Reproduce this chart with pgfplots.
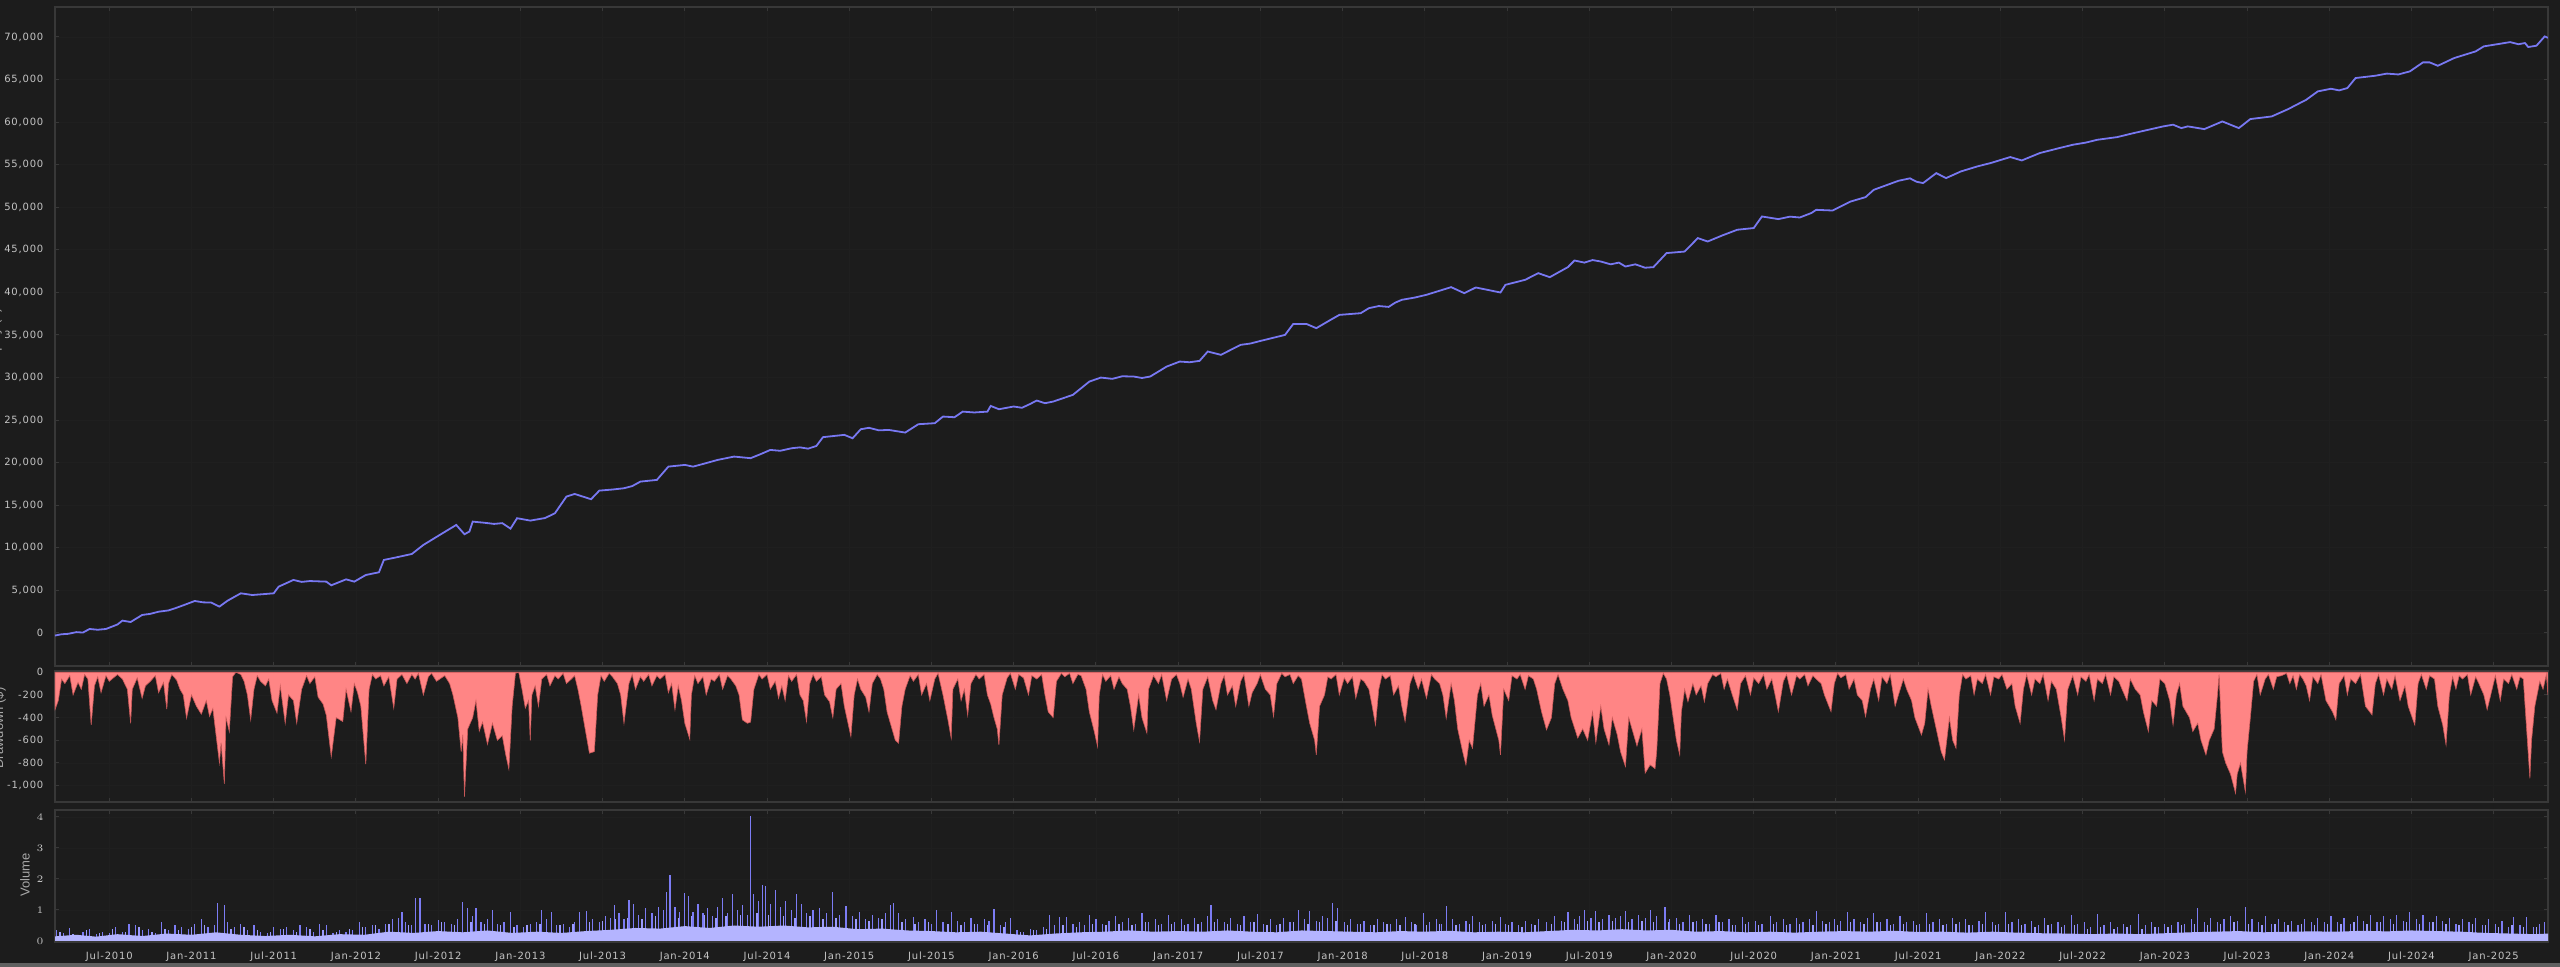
\documentclass[border=0pt]{standalone}
\usepackage{pgfplots}
\pgfplotsset{compat=1.18}
\usepackage{fontspec}
\setmainfont{DejaVu Sans}[LetterSpace=8]
\newfontfamily\labfont{Liberation Sans}

\definecolor{bgc}{HTML}{1C1C1C}
\definecolor{framec}{HTML}{383838}
\definecolor{gridc}{HTML}{1F1F1F}
\definecolor{labc}{HTML}{C4C4C4}
\definecolor{axlabc}{HTML}{A8A8A8}
\definecolor{eqc}{HTML}{7878F2}
\definecolor{ddfill}{HTML}{FF8585}
\definecolor{ddedge}{HTML}{C85858}
\definecolor{volc}{HTML}{7C7CF4}
\definecolor{volmid}{HTML}{9C9CFF}
\definecolor{vollight}{HTML}{B4B4FF}

\pgfplotsset{
  panel/.style={
    scale only axis, width=1246.5pt,
    xmin=2010.17, xmax=2025.33,
    axis background/.style={fill=bgc},
    axis line style={framec, line width=0.8pt},
    tick style={framec, line width=0.5pt},
    major tick length=2pt,
    tick label style={font=\fontsize{5}{6}\selectfont, text=labc},
    yticklabel style={xshift=-2.3pt},
    grid=major, grid style={gridc, line width=0.4pt},
    xtick={2010.5,2011,...,2025},
    clip=true,
  },
}

\begin{document}
\begin{tikzpicture}[x=1pt,y=1pt]
\useasboundingbox (0,0) rectangle (1280,483.5);
\fill[bgc] (0,0) rectangle (1280,483.5);
\fill[framec!80] (0,0) rectangle (1280,2);

% equity
\begin{axis}[panel, at={(27.5pt,150.5pt)}, anchor=south west, height=329.5pt,
  ymin=-3876, ymax=73525,
  ytick={0,5000,...,70000},
  yticklabels={0,{5,000},{10,000},{15,000},{20,000},{25,000},{30,000},{35,000},{40,000},{45,000},{50,000},{55,000},{60,000},{65,000},{70,000}},
  xticklabels={}]
\addplot[eqc, line width=0.9pt, mark=none] coordinates {
(2010.17,-300) (2010.21,-150) (2010.25,-100) (2010.30,100) (2010.34,50) (2010.38,470) (2010.43,380) (2010.48,470) (2010.55,1000)
(2010.58,1450) (2010.63,1290) (2010.70,2115) (2010.75,2250) (2010.80,2500) (2010.86,2650) (2010.90,2900) (2010.95,3250)
(2011.02,3760) (2011.07,3600) (2011.12,3570) (2011.17,3100) (2011.22,3800) (2011.30,4660) (2011.37,4460)
(2011.43,4550) (2011.50,4660) (2011.53,5440) (2011.62,6230) (2011.67,6000) (2011.72,6100) (2011.82,6030) (2011.85,5600)
(2011.94,6300) (2011.99,6030) (2012.06,6810) (2012.14,7130) (2012.17,8580) (2012.25,8900)
(2012.34,9280) (2012.41,10340) (2012.51,11520) (2012.61,12690) (2012.66,11600) (2012.69,11910)
(2012.71,13080) (2012.78,12950) (2012.84,12810) (2012.89,12900) (2012.94,12260) (2012.98,13480) (2013.06,13200) (2013.15,13500)
(2013.21,14060) (2013.28,16020) (2013.33,16330) (2013.43,15710) (2013.48,16720) (2013.56,16850) (2013.63,17000)
(2013.68,17250) (2013.73,17780) (2013.83,17980) (2013.90,19540) (2014.00,19740) (2014.05,19540) (2014.12,19900) (2014.20,20330)
(2014.30,20720) (2014.40,20530) (2014.46,21000) (2014.52,21500) (2014.58,21400) (2014.65,21700) (2014.70,21800) (2014.75,21650) (2014.80,21970) (2014.84,23000)
(2014.97,23270) (2015.02,22870) (2015.07,23930) (2015.12,24100) (2015.18,23800) (2015.24,23850) (2015.34,23540) (2015.42,24520)
(2015.52,24640) (2015.57,25420) (2015.64,25340) (2015.69,26000) (2015.76,25900) (2015.84,26000) (2015.86,26670)
(2015.91,26280) (2016.00,26600) (2016.05,26450) (2016.10,26900) (2016.14,27300) (2016.19,26990) (2016.24,27180) (2016.36,27970) (2016.46,29530)
(2016.53,30000) (2016.60,29850) (2016.66,30150) (2016.73,30120) (2016.78,29950) (2016.83,30120) (2016.93,31290) (2017.01,31880) (2017.07,31800) (2017.13,31960)
(2017.18,33060) (2017.26,32670) (2017.38,33840) (2017.44,34000) (2017.50,34300) (2017.65,35010) (2017.70,36300)
(2017.78,36300) (2017.84,35800) (2017.92,36700) (2017.98,37360) (2018.11,37560) (2018.16,38150) (2018.22,38400) (2018.28,38300) (2018.32,38800) (2018.36,39130)
(2018.44,39400) (2018.51,39720) (2018.66,40620) (2018.74,39910) (2018.81,40580) (2018.96,39990) (2018.99,40890)
(2019.11,41480) (2019.19,42260) (2019.26,41790) (2019.37,42970) (2019.41,43750) (2019.47,43500) (2019.52,43800) (2019.57,43630)
(2019.63,43300) (2019.68,43500) (2019.72,43040) (2019.78,43300) (2019.84,42900) (2019.89,42970) (2019.97,44620) (2020.08,44800) (2020.16,46380) (2020.22,45980)
(2020.31,46700) (2020.40,47360) (2020.50,47560) (2020.55,48920) (2020.65,48610) (2020.72,48900) (2020.78,48800) (2020.85,49320) (2020.88,49700)
(2020.98,49620) (2021.09,50680) (2021.18,51190) (2021.23,52050) (2021.38,53110) (2021.45,53400) (2021.49,53000) (2021.53,52840)
(2021.61,54010) (2021.67,53430) (2021.76,54210) (2021.86,54800) (2021.94,55190) (2022.06,55900)
(2022.13,55500) (2022.24,56370) (2022.36,56960) (2022.44,57340) (2022.52,57600) (2022.59,57930) (2022.71,58240)
(2022.81,58710) (2022.99,59500) (2023.05,59700) (2023.10,59300) (2023.14,59500) (2023.24,59180) (2023.35,60080) (2023.45,59300)
(2023.52,60360) (2023.65,60670) (2023.75,61530) (2023.86,62630) (2023.93,63610) (2024.01,63920)
(2024.06,63730) (2024.11,64000) (2024.16,65180) (2024.28,65450) (2024.35,65700) (2024.42,65600) (2024.49,65960) (2024.57,67020)
(2024.61,67020) (2024.66,66620) (2024.76,67530) (2024.89,68310) (2024.94,68900) (2025.04,69210)
(2025.10,69400) (2025.15,69150) (2025.19,69290) (2025.21,68820) (2025.26,68980) (2025.31,70070) (2025.33,69900)
};
\end{axis}

% drawdown
\begin{axis}[panel, at={(27.5pt,82.35pt)}, anchor=south west, height=65.65pt,
  ymin=-1147, ymax=11,
  ytick={-1000,-800,...,0},
  yticklabels={{-1,000},-800,-600,-400,-200,0},
  xticklabels={}]
\addplot[draw=ddedge, line width=0.3pt, fill=ddfill, mark=none] coordinates {
(2010.17,0) (2010.17,-330) (2010.19,-250) (2010.21,-60) (2010.23,-100) (2010.26,-30) (2010.28,-200) (2010.31,-90) (2010.33,-150) (2010.35,-20) (2010.37,-60)
(2010.39,-465) (2010.41,-120) (2010.43,-40) (2010.45,-180) (2010.48,-30) (2010.50,-80) (2010.55,-20) (2010.58,-60) (2010.61,-150)
(2010.63,-450) (2010.64,-150) (2010.67,-50) (2010.70,-230) (2010.72,-120) (2010.75,-80) (2010.78,-30) (2010.80,-180) (2010.83,-90) (2010.85,-326)
(2010.86,-100) (2010.88,-20) (2010.91,-70) (2010.93,-150) (2010.95,-200) (2010.97,-405) (2011.00,-200) (2011.03,-300)
(2011.06,-370) (2011.09,-250) (2011.11,-390) (2011.13,-320) (2011.15,-560) (2011.17,-800)
(2011.18,-620) (2011.20,-985) (2011.21,-400) (2011.23,-523) (2011.25,-40) (2011.27,0) (2011.30,-20)
(2011.32,-80) (2011.34,-200) (2011.36,-420) (2011.38,-150) (2011.40,-30) (2011.42,-80) (2011.45,-120) (2011.47,-60) (2011.49,-250)
(2011.52,-360) (2011.54,-120) (2011.57,-450) (2011.59,-200) (2011.62,-250) (2011.64,-450)
(2011.67,-150) (2011.70,-30) (2011.72,-100) (2011.75,-40) (2011.77,-220) (2011.80,-280) (2011.82,-380) (2011.84,-626) (2011.85,-744)
(2011.88,-400) (2011.92,-435) (2011.94,-150) (2011.97,-347) (2011.99,-100) (2012.01,-180) (2012.03,-300)
(2012.06,-811) (2012.08,-150) (2012.10,-20) (2012.12,-60) (2012.15,-30) (2012.17,-120) (2012.20,-40) (2012.23,-317) (2012.25,-60)
(2012.28,-20) (2012.31,-100) (2012.34,-20) (2012.36,-60) (2012.38,-10) (2012.41,-200) (2012.44,-40) (2012.46,-10) (2012.49,-80) (2012.54,-30)
(2012.57,-100) (2012.59,-200) (2012.62,-400) (2012.64,-700) (2012.65,-550) (2012.66,-1097) (2012.68,-500)
(2012.71,-400) (2012.73,-250) (2012.75,-520) (2012.77,-440) (2012.80,-635) (2012.83,-450) (2012.86,-600)
(2012.89,-560) (2012.91,-720) (2012.93,-855) (2012.95,-300) (2012.97,-10) (2012.99,0) (2013.01,-150)
(2013.03,-317) (2013.05,-250) (2013.06,-600) (2013.07,-200) (2013.09,-120) (2013.11,-300) (2013.13,-60)
(2013.16,-20) (2013.18,-120) (2013.21,-30) (2013.23,-60) (2013.26,-10) (2013.28,-100) (2013.31,-60) (2013.33,-30) (2013.35,-150) (2013.37,-300) (2013.40,-550)
(2013.42,-714) (2013.45,-700) (2013.47,-200) (2013.49,-30) (2013.51,-80) (2013.54,-10) (2013.56,-40) (2013.59,-100) (2013.61,-200)
(2013.63,-450) (2013.66,-100) (2013.68,-20) (2013.70,-150) (2013.73,-40) (2013.75,-80) (2013.78,-20) (2013.80,-120) (2013.83,-30) (2013.85,-60)
(2013.88,-20) (2013.90,-180) (2013.92,-100) (2013.94,-330) (2013.96,-120) (2013.98,-250) (2014.00,-450) (2014.03,-590) (2014.04,-200)
(2014.06,-30) (2014.08,-100) (2014.11,-40) (2014.13,-200) (2014.16,-60) (2014.18,-80) (2014.21,-20) (2014.23,-150) (2014.26,-30) (2014.28,-60)
(2014.31,-120) (2014.33,-200) (2014.35,-420) (2014.38,-450) (2014.40,-440) (2014.42,-150) (2014.45,-20) (2014.47,-60) (2014.50,-20) (2014.52,-150)
(2014.55,-80) (2014.57,-230) (2014.59,-120) (2014.61,-250) (2014.63,-30) (2014.65,-80) (2014.68,-20) (2014.70,-200) (2014.72,-250) (2014.74,-435) (2014.76,-100)
(2014.78,-20) (2014.80,-80) (2014.83,-40) (2014.85,-200) (2014.88,-260) (2014.90,-400) (2014.92,-150) (2014.95,-100) (2014.97,-300) (2015.01,-567)
(2015.03,-200) (2015.05,-60) (2015.07,-150) (2015.10,-220) (2015.12,-350) (2015.14,-100) (2015.17,-20) (2015.19,-60) (2015.21,-150) (2015.23,-350)
(2015.25,-450) (2015.28,-600) (2015.30,-626) (2015.32,-300) (2015.34,-150) (2015.37,-30) (2015.39,-80) (2015.42,-20)
(2015.44,-200) (2015.47,-100) (2015.49,-250) (2015.52,-60) (2015.54,-10) (2015.57,-200) (2015.60,-420) (2015.62,-582)
(2015.63,-150) (2015.66,-60) (2015.68,-250) (2015.70,-150) (2015.72,-380) (2015.74,-100) (2015.77,-20) (2015.79,-60) (2015.82,-20) (2015.84,-200)
(2015.86,-280) (2015.88,-400) (2015.90,-500) (2015.91,-641) (2015.93,-200) (2015.96,-50) (2015.98,-10) (2016.01,-150)
(2016.03,-20) (2016.06,-50) (2016.09,-200) (2016.11,-30) (2016.14,-60) (2016.17,-20) (2016.19,-200) (2016.21,-350) (2016.24,-400)
(2016.26,-80) (2016.29,-10) (2016.31,-40) (2016.34,-10) (2016.36,-100) (2016.39,-20) (2016.41,-30) (2016.44,-150) (2016.46,-350) (2016.49,-523)
(2016.51,-655) (2016.52,-200) (2016.54,-20) (2016.56,-80) (2016.59,-30) (2016.61,-150) (2016.64,-40) (2016.66,-100) (2016.69,-150) (2016.71,-300)
(2016.73,-508) (2016.76,-200) (2016.78,-400) (2016.81,-538) (2016.82,-150) (2016.85,-30) (2016.88,-100) (2016.90,-20)
(2016.93,-250) (2016.96,-60) (2016.99,-20) (2017.01,-100) (2017.03,-220) (2017.06,-60) (2017.08,-150) (2017.11,-450) (2017.13,-611)
(2017.15,-150) (2017.18,-40) (2017.21,-250) (2017.23,-330) (2017.26,-100) (2017.28,-30) (2017.30,-200) (2017.33,-120) (2017.35,-300)
(2017.38,-80) (2017.40,-20) (2017.43,-300) (2017.45,-180) (2017.48,-100) (2017.50,-20) (2017.53,-150) (2017.56,-200) (2017.58,-390) (2017.60,-100)
(2017.63,-10) (2017.65,-40) (2017.68,-20) (2017.70,-100) (2017.73,-30) (2017.75,-60) (2017.78,-300) (2017.80,-450) (2017.83,-600)
(2017.84,-729) (2017.86,-300) (2017.89,-200) (2017.91,-40) (2017.93,-60) (2017.96,-20) (2017.98,-200) (2018.01,-50) (2018.03,-100)
(2018.06,-40) (2018.08,-230) (2018.11,-60) (2018.13,-80) (2018.16,-150) (2018.18,-300) (2018.20,-465) (2018.22,-150) (2018.24,-20) (2018.26,-60)
(2018.29,-30) (2018.31,-200) (2018.34,-120) (2018.36,-300) (2018.38,-435) (2018.41,-100) (2018.43,-20) (2018.46,-150) (2018.48,-60) (2018.51,-230)
(2018.54,-20) (2018.56,-60) (2018.59,-100) (2018.61,-200) (2018.63,-405) (2018.66,-100) (2018.68,-250) (2018.70,-500) (2018.73,-700)
(2018.75,-817) (2018.77,-600) (2018.79,-670) (2018.82,-200) (2018.84,-100) (2018.86,-300) (2018.89,-200) (2018.91,-380)
(2018.95,-600) (2018.96,-729) (2018.98,-150) (2019.01,-250) (2019.03,-30) (2019.06,-60) (2019.08,-20) (2019.11,-150) (2019.13,-30)
(2019.16,-60) (2019.18,-150) (2019.21,-350) (2019.24,-508) (2019.27,-400) (2019.29,-100) (2019.31,-20) (2019.34,-150) (2019.37,-250)
(2019.39,-400) (2019.43,-580) (2019.46,-500) (2019.49,-600) (2019.52,-350) (2019.54,-620)
(2019.57,-300) (2019.59,-500) (2019.62,-641) (2019.64,-400) (2019.67,-550) (2019.69,-700)
(2019.72,-832) (2019.74,-400) (2019.77,-550) (2019.79,-650) (2019.82,-500) (2019.84,-890)
(2019.87,-817) (2019.90,-850) (2019.91,-700) (2019.93,-100) (2019.95,-10) (2019.97,-60) (2019.99,-200) (2020.01,-400)
(2020.03,-600) (2020.05,-729) (2020.06,-350) (2020.08,-150) (2020.10,-260) (2020.13,-100) (2020.15,-200) (2020.18,-120) (2020.20,-260)
(2020.22,-100) (2020.25,-20) (2020.27,-40) (2020.30,-10) (2020.32,-150) (2020.34,-60) (2020.37,-200) (2020.40,-332) (2020.42,-100)
(2020.45,-30) (2020.48,-200) (2020.50,-50) (2020.53,-100) (2020.56,-20) (2020.58,-150) (2020.61,-60) (2020.63,-200) (2020.65,-347) (2020.68,-80)
(2020.70,-20) (2020.73,-200) (2020.76,-30) (2020.78,-60) (2020.81,-20) (2020.83,-120) (2020.86,-30) (2020.88,-60) (2020.91,-100) (2020.93,-200) (2020.97,-347)
(2020.99,-100) (2021.01,-10) (2021.03,-50) (2021.06,-20) (2021.08,-150) (2021.11,-60) (2021.13,-200) (2021.16,-250) (2021.18,-391) (2021.21,-150)
(2021.23,-60) (2021.26,-250) (2021.28,-40) (2021.31,-100) (2021.33,-20) (2021.36,-300) (2021.38,-200) (2021.41,-60) (2021.43,-150) (2021.46,-250) (2021.48,-400)
(2021.52,-553) (2021.54,-450) (2021.56,-150) (2021.58,-300) (2021.61,-500) (2021.64,-700) (2021.66,-773)
(2021.69,-400) (2021.71,-600) (2021.73,-670) (2021.75,-200) (2021.77,-20) (2021.79,-60) (2021.82,-30) (2021.84,-200) (2021.86,-60)
(2021.89,-100) (2021.91,-20) (2021.94,-200) (2021.96,-40) (2021.99,-60) (2022.01,-20) (2022.04,-150) (2022.07,-100) (2022.09,-300) (2022.12,-450)
(2022.14,-150) (2022.16,-20) (2022.19,-200) (2022.21,-60) (2022.24,-100) (2022.26,-20) (2022.29,-250) (2022.31,-80) (2022.34,-150) (2022.37,-400)
(2022.39,-597) (2022.41,-150) (2022.44,-30) (2022.47,-200) (2022.49,-40) (2022.52,-80) (2022.54,-20) (2022.57,-250) (2022.59,-60) (2022.62,-100)
(2022.64,-20) (2022.67,-200) (2022.69,-40) (2022.72,-80) (2022.74,-150) (2022.77,-250) (2022.79,-60) (2022.82,-150) (2022.85,-200) (2022.87,-350) (2022.90,-523)
(2022.92,-250) (2022.95,-300) (2022.97,-60) (2023.00,-100) (2023.03,-250) (2023.05,-465) (2023.07,-200) (2023.09,-100) (2023.11,-300)
(2023.15,-400) (2023.17,-523) (2023.20,-450) (2023.22,-600) (2023.25,-729) (2023.27,-600)
(2023.30,-500) (2023.32,-200) (2023.33,-20) (2023.35,-700) (2023.37,-800) (2023.40,-900) (2023.43,-1067)
(2023.44,-900) (2023.46,-800) (2023.49,-1056) (2023.50,-700) (2023.52,-400) (2023.54,-80) (2023.56,-20)
(2023.58,-200) (2023.61,-60) (2023.63,-20) (2023.66,-150) (2023.68,-40) (2023.71,-30) (2023.74,-10) (2023.76,-100) (2023.78,-30) (2023.80,-150)
(2023.82,-20) (2023.84,-60) (2023.86,-120) (2023.88,-250) (2023.90,-40) (2023.93,-100) (2023.95,-20) (2023.98,-250) (2024.02,-350) (2024.04,-420)
(2024.06,-100) (2024.09,-30) (2024.11,-200) (2024.13,-60) (2024.16,-100) (2024.19,-20) (2024.22,-300) (2024.26,-376) (2024.28,-100)
(2024.30,-20) (2024.33,-200) (2024.35,-60) (2024.38,-150) (2024.40,-30) (2024.43,-250) (2024.46,-120) (2024.48,-300) (2024.52,-465) (2024.54,-100)
(2024.56,-20) (2024.59,-150) (2024.61,-30) (2024.64,-60) (2024.66,-300) (2024.69,-465) (2024.71,-641) (2024.73,-200)
(2024.75,-40) (2024.77,-150) (2024.79,-30) (2024.81,-60) (2024.84,-20) (2024.86,-200) (2024.89,-40) (2024.91,-100) (2024.94,-200) (2024.96,-330) (2024.99,-150)
(2025.01,-30) (2025.04,-250) (2025.06,-60) (2025.09,-100) (2025.11,-20) (2025.14,-150) (2025.16,-40) (2025.18,-60) (2025.20,-500) (2025.22,-935)
(2025.23,-600) (2025.25,-300) (2025.28,-80) (2025.30,-150) (2025.32,-20) (2025.33,-200) (2025.33,0)
} \closedcycle;
\end{axis}

% volume
\begin{axis}[panel, at={(27.5pt,12.5pt)}, anchor=south west, height=66pt,
  ymin=-0.032, ymax=4.226,
  ytick={0,1,2,3,4},
  xticklabels={Jul-2010,Jan-2011,Jul-2011,Jan-2012,Jul-2012,Jan-2013,Jul-2013,Jan-2014,Jul-2014,Jan-2015,Jul-2015,Jan-2016,Jul-2016,Jan-2017,Jul-2017,Jan-2018,Jul-2018,Jan-2019,Jul-2019,Jan-2020,Jul-2020,Jan-2021,Jul-2021,Jan-2022,Jul-2022,Jan-2023,Jul-2023,Jan-2024,Jul-2024,Jan-2025},
  xticklabel style={yshift=-1.5pt}]
\addplot[ycomb, draw=volc, line width=0.6pt, mark=none] coordinates {
(2010.18,0.35) (2010.22,0.25) (2010.26,0.42) (2010.30,0.2) (2010.34,0.3) (2010.38,0.4) (2010.42,0.22)
(2010.46,0.28) (2010.50,0.25) (2010.54,0.45) (2010.58,0.3) (2010.62,0.55) (2010.66,0.5) (2010.70,0.35)
(2010.74,0.4) (2010.78,0.25) (2010.82,0.62) (2010.86,0.35) (2010.90,0.5) (2010.94,0.45) (2010.98,0.4)
(2011.02,0.55) (2011.06,0.7) (2011.10,0.45) (2011.14,0.5) (2011.16,1.24) (2011.20,1.16) (2011.22,0.6)
(2011.26,0.45) (2011.30,0.55) (2011.34,0.35) (2011.38,0.5) (2011.42,0.3) (2011.46,0.25) (2011.50,0.45)
(2011.54,0.4) (2011.58,0.45) (2011.62,0.35) (2011.66,0.5) (2011.70,0.45) (2011.74,0.3) (2011.78,0.55)
(2011.82,0.5) (2011.86,0.25) (2011.90,0.35) (2011.94,0.3) (2011.98,0.35)
(2012.02,0.6) (2012.06,0.45) (2012.10,0.5) (2012.14,0.4) (2012.18,0.55) (2012.22,0.7) (2012.26,0.75)
(2012.28,0.95) (2012.30,0.6) (2012.34,0.5) (2012.36,1.38) (2012.39,1.38) (2012.42,0.55) (2012.46,0.5)
(2012.50,0.68) (2012.54,0.6) (2012.58,0.55) (2012.62,0.7) (2012.65,1.27) (2012.68,1.05) (2012.71,0.8)
(2012.73,1.05) (2012.76,0.6) (2012.80,0.7) (2012.83,1.0) (2012.86,0.55) (2012.90,0.6) (2012.94,0.92)
(2012.98,0.5)
(2013.02,0.45) (2013.06,0.55) (2013.10,0.6) (2013.13,1.0) (2013.16,0.7) (2013.19,0.95) (2013.22,0.5)
(2013.26,0.55) (2013.30,0.45) (2013.33,0.6) (2013.36,0.95) (2013.40,0.98) (2013.44,0.7) (2013.48,0.6)
(2013.52,0.8) (2013.55,0.75) (2013.57,1.16) (2013.60,0.9) (2013.63,0.7) (2013.66,1.32) (2013.69,1.2)
(2013.72,0.85) (2013.76,1.05) (2013.80,0.9) (2013.84,1.1) (2013.87,1.0) (2013.89,1.59) (2013.91,2.13)
(2013.94,1.1) (2013.97,0.95)
(2014.00,1.54) (2014.02,1.46) (2014.05,0.95) (2014.08,1.2) (2014.11,0.9) (2014.14,1.05) (2014.17,0.8)
(2014.20,1.1) (2014.23,1.39) (2014.26,0.9) (2014.29,1.53) (2014.32,1.0) (2014.35,1.15) (2014.38,0.85)
(2014.40,4.04) (2014.42,1.51) (2014.45,1.3) (2014.47,1.8) (2014.49,1.78) (2014.52,1.2) (2014.55,1.64)
(2014.58,1.1) (2014.61,1.3) (2014.65,1.0) (2014.68,1.51) (2014.71,1.18) (2014.74,0.9) (2014.78,1.0)
(2014.82,1.08) (2014.86,0.9) (2014.90,1.59) (2014.94,0.85) (2014.98,1.14)
(2015.02,0.8) (2015.06,0.95) (2015.10,0.7) (2015.14,0.85) (2015.18,0.75) (2015.22,0.9) (2015.25,1.16)
(2015.27,1.22) (2015.30,0.9) (2015.34,0.7) (2015.39,0.79) (2015.42,0.6) (2015.46,0.7) (2015.50,0.55)
(2015.53,1.0) (2015.57,0.6) (2015.62,0.95) (2015.66,0.65) (2015.70,0.6) (2015.74,0.75) (2015.78,0.55)
(2015.82,0.7) (2015.85,0.65) (2015.88,1.04) (2015.92,0.5) (2015.95,0.6) (2015.98,0.74)
(2016.02,0.35) (2016.06,0.3) (2016.10,0.4) (2016.14,0.35) (2016.18,0.45) (2016.22,0.85) (2016.25,0.5)
(2016.28,0.79) (2016.32,0.79) (2016.36,0.55) (2016.40,0.6) (2016.43,0.5) (2016.46,0.85) (2016.50,0.7)
(2016.54,0.55) (2016.58,0.65) (2016.62,0.8) (2016.66,0.6) (2016.70,0.75) (2016.74,0.55) (2016.78,0.9)
(2016.82,0.6) (2016.86,0.7) (2016.90,0.55) (2016.94,0.85) (2016.98,0.6)
(2017.02,0.7) (2017.06,0.55) (2017.10,0.75) (2017.14,0.6) (2017.18,0.8) (2017.20,1.16) (2017.24,0.7)
(2017.28,0.6) (2017.32,0.75) (2017.36,0.55) (2017.40,0.82) (2017.44,0.6) (2017.48,0.87) (2017.52,0.55)
(2017.56,0.7) (2017.60,0.5) (2017.64,0.75) (2017.68,0.6) (2017.73,1.0) (2017.77,0.7) (2017.80,0.96)
(2017.84,0.65) (2017.88,0.8) (2017.91,0.75) (2017.94,1.22) (2017.97,1.07)
(2018.01,0.6) (2018.05,0.7) (2018.09,0.55) (2018.13,0.65) (2018.17,0.5) (2018.21,0.7) (2018.25,0.6)
(2018.29,0.55) (2018.33,0.7) (2018.38,0.79) (2018.42,0.6) (2018.45,0.5) (2018.49,0.91) (2018.53,0.6)
(2018.57,0.7) (2018.60,0.55) (2018.63,1.13) (2018.67,0.7) (2018.71,0.55) (2018.75,0.65) (2018.79,0.8)
(2018.83,0.6) (2018.87,0.55) (2018.91,0.65) (2018.96,0.78) (2018.99,0.55)
(2019.03,0.6) (2019.07,0.5) (2019.11,0.65) (2019.15,0.55) (2019.19,0.7) (2019.24,0.6) (2019.29,0.8)
(2019.33,0.65) (2019.37,0.94) (2019.41,0.7) (2019.44,0.8) (2019.47,1.0) (2019.51,0.75) (2019.54,0.98)
(2019.58,0.7) (2019.62,0.85) (2019.66,0.75) (2019.69,0.8) (2019.72,0.97) (2019.76,0.7) (2019.80,0.85)
(2019.84,0.75) (2019.87,1.0) (2019.91,0.8) (2019.96,1.1) (2019.99,0.7)
(2020.03,0.75) (2020.07,0.6) (2020.11,0.84) (2020.15,0.65) (2020.19,0.7) (2020.23,0.55) (2020.27,0.84)
(2020.31,0.6) (2020.35,0.7) (2020.39,0.5) (2020.43,0.78) (2020.47,0.6) (2020.51,0.65) (2020.55,0.55)
(2020.60,0.8) (2020.64,0.6) (2020.68,0.7) (2020.72,0.55) (2020.76,0.75) (2020.80,0.6) (2020.84,0.7)
(2020.88,0.98) (2020.92,0.65) (2020.96,0.6) (2020.99,0.7)
(2021.03,0.65) (2021.07,0.95) (2021.11,0.7) (2021.15,0.6) (2021.19,0.75) (2021.23,0.89) (2021.27,0.6)
(2021.31,0.7) (2021.35,0.55) (2021.39,0.8) (2021.43,0.6) (2021.47,0.65) (2021.51,0.55) (2021.55,0.89)
(2021.59,0.6) (2021.63,0.7) (2021.67,0.55) (2021.71,0.75) (2021.75,0.6) (2021.79,0.7) (2021.83,0.5)
(2021.87,0.65) (2021.91,0.92) (2021.95,0.6) (2021.99,0.55)
(2022.03,0.92) (2022.07,0.6) (2022.11,0.7) (2022.15,0.55) (2022.19,0.65) (2022.23,0.5) (2022.27,0.75)
(2022.31,0.55) (2022.35,0.6) (2022.39,0.5) (2022.43,0.84) (2022.47,0.55) (2022.51,0.6) (2022.55,0.45)
(2022.59,0.86) (2022.63,0.5) (2022.67,0.6) (2022.71,0.45) (2022.75,0.55) (2022.79,0.5) (2022.84,0.86)
(2022.88,0.5) (2022.92,0.6) (2022.96,0.45)
(2023.00,0.55) (2023.04,0.5) (2023.08,0.6) (2023.12,0.55) (2023.16,0.7) (2023.20,1.07) (2023.24,0.6)
(2023.28,0.75) (2023.32,0.6) (2023.36,0.7) (2023.40,0.8) (2023.44,0.65) (2023.49,1.1) (2023.53,0.7)
(2023.57,0.6) (2023.61,0.8) (2023.65,0.55) (2023.69,0.7) (2023.73,0.6) (2023.77,0.65) (2023.81,0.5)
(2023.85,0.7) (2023.89,0.6) (2023.93,0.75) (2023.97,0.6)
(2024.01,0.8) (2024.05,0.6) (2024.09,0.75) (2024.13,0.55) (2024.17,0.8) (2024.21,0.65) (2024.25,0.85)
(2024.29,0.6) (2024.33,0.8) (2024.37,0.7) (2024.41,0.85) (2024.45,0.65) (2024.49,0.94) (2024.53,0.7)
(2024.57,0.85) (2024.61,0.6) (2024.65,0.8) (2024.69,0.65) (2024.73,0.75) (2024.77,0.55) (2024.81,0.7)
(2024.85,0.6) (2024.89,0.75) (2024.93,0.5) (2024.97,0.7)
(2025.01,0.55) (2025.05,0.65) (2025.09,0.45) (2025.12,0.76) (2025.16,0.5) (2025.20,0.78) (2025.24,0.45)
(2025.28,0.55) (2025.31,0.6)
};
\addplot[ycomb, draw=volmid, line width=0.7pt, mark=none] coordinates {
(2010.20,0.3) (2010.28,0.22) (2010.36,0.35) (2010.44,0.25) (2010.52,0.4) (2010.60,0.3) (2010.68,0.45) (2010.76,0.3) (2010.84,0.4) (2010.92,0.35)
(2011.00,0.45) (2011.08,0.5) (2011.24,0.4) (2011.32,0.45) (2011.40,0.35) (2011.48,0.3) (2011.56,0.4) (2011.64,0.3) (2011.72,0.4) (2011.80,0.35) (2011.88,0.3) (2011.96,0.4)
(2012.04,0.45) (2012.12,0.5) (2012.20,0.55) (2012.32,0.5) (2012.44,0.55) (2012.52,0.6) (2012.60,0.5) (2012.70,0.6) (2012.78,0.55) (2012.88,0.5) (2012.96,0.45)
(2013.04,0.5) (2013.12,0.55) (2013.24,0.5) (2013.32,0.55) (2013.42,0.6) (2013.50,0.65) (2013.58,0.7) (2013.65,0.75) (2013.74,0.7) (2013.82,0.8) (2013.96,0.75)
(2014.04,0.8) (2014.12,0.85) (2014.19,0.75) (2014.25,0.8) (2014.34,0.85) (2014.44,0.9) (2014.51,0.85) (2014.60,0.8) (2014.67,0.75) (2014.76,0.8) (2014.84,0.7) (2014.92,0.75)
(2015.04,0.7) (2015.12,0.65) (2015.20,0.7) (2015.32,0.6) (2015.40,0.55) (2015.48,0.6) (2015.60,0.55) (2015.68,0.5) (2015.76,0.55) (2015.84,0.5) (2015.94,0.45)
(2016.04,0.3) (2016.12,0.35) (2016.20,0.4) (2016.30,0.5) (2016.38,0.45) (2016.48,0.55) (2016.56,0.5) (2016.64,0.55) (2016.72,0.5) (2016.80,0.6) (2016.88,0.5) (2016.96,0.55)
(2017.04,0.5) (2017.12,0.55) (2017.22,0.6) (2017.30,0.55) (2017.38,0.5) (2017.46,0.6) (2017.54,0.5) (2017.62,0.55) (2017.70,0.6) (2017.79,0.55) (2017.86,0.6) (2017.96,0.65)
(2018.03,0.5) (2018.11,0.55) (2018.19,0.5) (2018.27,0.55) (2018.35,0.5) (2018.44,0.55) (2018.51,0.5) (2018.59,0.55) (2018.69,0.5) (2018.77,0.55) (2018.85,0.5) (2018.93,0.55)
(2019.01,0.5) (2019.09,0.45) (2019.17,0.5) (2019.27,0.55) (2019.35,0.6) (2019.43,0.55) (2019.49,0.65) (2019.56,0.6) (2019.64,0.65) (2019.74,0.6) (2019.82,0.65) (2019.89,0.6) (2019.98,0.6)
(2020.05,0.55) (2020.13,0.6) (2020.21,0.55) (2020.29,0.6) (2020.37,0.5) (2020.45,0.55) (2020.53,0.5) (2020.62,0.55) (2020.70,0.5) (2020.78,0.55) (2020.86,0.5) (2020.94,0.55)
(2021.01,0.5) (2021.09,0.6) (2021.17,0.55) (2021.25,0.6) (2021.33,0.5) (2021.41,0.55) (2021.49,0.5) (2021.57,0.55) (2021.65,0.5) (2021.73,0.55) (2021.81,0.5) (2021.89,0.55) (2021.97,0.5)
(2022.05,0.55) (2022.13,0.5) (2022.21,0.45) (2022.29,0.5) (2022.37,0.45) (2022.45,0.5) (2022.53,0.4) (2022.61,0.45) (2022.69,0.4) (2022.77,0.45) (2022.86,0.4) (2022.94,0.45)
(2023.02,0.45) (2023.10,0.5) (2023.18,0.55) (2023.26,0.5) (2023.34,0.55) (2023.42,0.6) (2023.51,0.55) (2023.59,0.5) (2023.67,0.55) (2023.75,0.5) (2023.83,0.55) (2023.91,0.5) (2023.99,0.55)
(2024.07,0.55) (2024.15,0.6) (2024.23,0.55) (2024.31,0.6) (2024.39,0.55) (2024.47,0.6) (2024.55,0.55) (2024.63,0.6) (2024.71,0.55) (2024.79,0.5) (2024.87,0.55) (2024.95,0.5)
(2025.03,0.45) (2025.11,0.5) (2025.18,0.45) (2025.26,0.45)
};
\addplot[fill=vollight, draw=none, mark=none] coordinates {
(2010.17,0) (2010.17,0.15) (2010.30,0.2) (2010.42,0.14) (2010.55,0.22) (2010.70,0.16) (2010.85,0.24)
(2011.00,0.2) (2011.15,0.28) (2011.30,0.2) (2011.45,0.16) (2011.60,0.2) (2011.75,0.15) (2011.90,0.22)
(2012.05,0.2) (2012.20,0.3) (2012.35,0.26) (2012.50,0.32) (2012.65,0.28) (2012.80,0.34) (2012.95,0.26)
(2013.10,0.3) (2013.25,0.26) (2013.40,0.32) (2013.55,0.36) (2013.70,0.42) (2013.85,0.4) (2014.00,0.48)
(2014.15,0.42) (2014.30,0.5) (2014.45,0.46) (2014.60,0.5) (2014.75,0.44) (2014.90,0.46) (2015.05,0.38)
(2015.20,0.4) (2015.35,0.34) (2015.50,0.32) (2015.65,0.28) (2015.80,0.3) (2015.95,0.24) (2016.10,0.18)
(2016.25,0.24) (2016.40,0.28) (2016.55,0.3) (2016.70,0.34) (2016.85,0.3) (2017.00,0.32) (2017.15,0.3)
(2017.30,0.34) (2017.45,0.3) (2017.60,0.28) (2017.75,0.34) (2017.90,0.32) (2018.05,0.3) (2018.20,0.28)
(2018.35,0.32) (2018.50,0.3) (2018.65,0.33) (2018.80,0.28) (2018.95,0.3) (2019.10,0.28) (2019.25,0.32)
(2019.40,0.36) (2019.55,0.34) (2019.70,0.38) (2019.85,0.34) (2020.00,0.36) (2020.15,0.3) (2020.30,0.32)
(2020.45,0.28) (2020.60,0.3) (2020.75,0.27) (2020.90,0.3) (2021.05,0.32) (2021.20,0.3) (2021.35,0.33)
(2021.50,0.29) (2021.65,0.3) (2021.80,0.27) (2021.95,0.3) (2022.10,0.27) (2022.25,0.25) (2022.40,0.24)
(2022.55,0.22) (2022.70,0.24) (2022.85,0.22) (2023.00,0.25) (2023.15,0.28) (2023.30,0.3) (2023.45,0.32)
(2023.60,0.28) (2023.75,0.3) (2023.90,0.31) (2024.05,0.3) (2024.20,0.33) (2024.35,0.31) (2024.50,0.34)
(2024.65,0.32) (2024.80,0.3) (2024.95,0.26) (2025.10,0.24) (2025.25,0.22) (2025.33,0.24) (2025.33,0)
} -- cycle;
\end{axis}

\node[rotate=90, anchor=base, font=\labfont\fontsize{6.5}{7}\selectfont, text=axlabc] at (-0.5,315.5) {Equity (\$)};
\node[rotate=90, anchor=base, font=\labfont\fontsize{6.5}{7}\selectfont, text=axlabc] at (1.5,119.5) {Drawdown (\$)};
\node[rotate=90, font=\labfont\fontsize{6.5}{7}\selectfont, text=axlabc] at (12.5,46) {Volume};
\end{tikzpicture}
\end{document}
